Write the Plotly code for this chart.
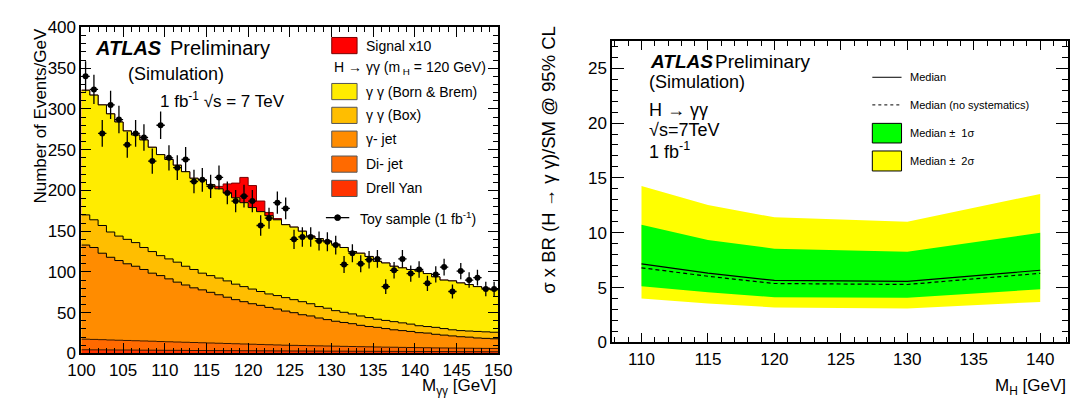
import numpy as np
import plotly.graph_objects as go

# ---------------- Left panel data (1 GeV bins, 100-150 GeV) ----------------
bin_edges = list(range(100, 151))
# stacked heights (top of each layer), Events/GeV
stack_born_brem = [323, 317, 305, 294, 284, 273, 268, 262, 253, 244,
                   238, 231, 223, 215, 213, 207, 202, 197, 191, 185,
                   179, 174, 169, 164, 158, 155, 150, 144, 141, 138,
                   134, 130, 125, 123, 119, 113, 111, 107, 105, 103,
                   101, 98, 94, 90, 89, 86.5, 84.5, 82, 80, 78]
stack_box = [170, 164, 157, 149, 144, 140, 136, 130, 125, 120,
             116, 112, 107, 103, 98.5, 95.5, 92.5, 89, 85, 82,
             79, 76, 73, 71, 68.5, 66, 63.5, 61, 57.5, 55.5,
             52.5, 50.5, 48.5, 46, 44, 42, 40.5, 39, 37.5, 36,
             34, 33, 32, 30.5, 29, 28, 27.5, 27, 26.5, 26]
stack_gjet = [133, 130, 123, 118, 114, 110, 107, 103, 98.5, 95.5,
              91.5, 87.5, 84, 80.5, 78, 75, 72, 69, 66, 63.5,
              61, 59, 56.5, 54.5, 52, 50, 47.5, 46, 43.5, 41.5,
              39.5, 38, 36.5, 34.5, 33, 32, 30.5, 29, 28, 27,
              25.5, 25, 23.5, 22.5, 21.5, 20.5, 20, 19, 18.5, 18]
stack_dijet = [17.5, 17.2, 16.9, 16.5, 16.2, 15.9, 15.6, 15.3, 15.0, 14.6,
               14.3, 14.0, 13.7, 13.4, 13.1, 12.8, 12.5, 12.2, 11.9, 11.6,
               11.3, 11.0, 10.7, 10.4, 10.1, 9.9, 9.7, 9.5, 9.3, 9.1,
               8.9, 8.7, 8.5, 8.3, 8.1, 7.9, 7.7, 7.6, 7.4, 7.3,
               7.1, 7.0, 6.8, 6.7, 6.6, 6.5, 6.4, 6.3, 6.2, 6.1]
stack_dy = [4.5, 4.4, 4.4, 4.3, 4.2, 4.2, 4.1, 4.0, 4.0, 3.9,
            3.8, 3.8, 3.7, 3.6, 3.6, 3.5, 3.5, 3.4, 3.4, 3.3,
            3.3, 3.2, 3.2, 3.1, 3.1, 3.0, 3.0, 2.9, 2.9, 2.8,
            2.8, 2.8, 2.7, 2.7, 2.6, 2.6, 2.6, 2.5, 2.5, 2.4,
            2.4, 2.4, 2.3, 2.3, 2.3, 2.2, 2.2, 2.2, 2.1, 2.1]
signal_x10 = [0, 0, 0, 0, 0, 0, 0, 0, 0, 0,
              0, 0, 0, 0, 0, 0, 3, 11, 18, 31,
              27, 13, 4, 1.5, 0, 0, 0, 0, 0, 0,
              0, 0, 0, 0, 0, 0, 0, 0, 0, 0,
              0, 0, 0, 0, 0, 0, 0, 0, 0, 0]
toy_sample = [340, 324, 270, 305, 287, 256, 270, 265, 236, 280,
              240, 228, 238, 211, 213, 205, 216, 197, 187, 193,
              187, 157, 166, 185, 178, 140, 143, 143, 138, 137,
              133, 109, 123, 110, 115, 116, 82, 102, 116, 98,
              103, 86, 97, 106, 76, 101, 90, 93, 79, 79]

# ---------------- Right panel data ----------------
mass_h = [110, 115, 120, 130, 140]
median = [7.16, 6.32, 5.65, 5.57, 6.58]
median_nosys = [6.80, 6.03, 5.37, 5.28, 6.30]
plus1 = [10.73, 9.34, 8.55, 8.27, 10.0]
minus1 = [5.13, 4.58, 4.12, 4.06, 4.84]
plus2 = [14.26, 12.52, 11.40, 11.0, 13.54]
minus2 = [4.0, 3.54, 3.19, 3.10, 3.69]

W, H = 1078, 398
FONT = "Liberation Sans, Arial, Helvetica, sans-serif"


def px(x):
    return x / W


def py(y):
    return 1 - y / H


C_SIG = "#FF0000"
C_BORN = "#FFEC00"
C_BOX = "#FFBE00"
C_GJET = "#FF8C00"
C_DIJET = "#FF6A00"
C_DY = "#FF3300"

fig = go.Figure()


def step(vals):
    return list(vals) + [vals[-1]]


tot_sig = [b + s for b, s in zip(stack_born_brem, signal_x10)]
layers = [
    (tot_sig, C_SIG, "#7a0000"),
    (stack_born_brem, C_BORN, "black"),
    (stack_box, C_BOX, "black"),
    (stack_gjet, C_GJET, "black"),
    (stack_dijet, C_DIJET, "#3a1a00"),
    (stack_dy, C_DY, "#3a1a00"),
]
for vals, col, lcol in layers:
    fig.add_trace(go.Scatter(
        x=bin_edges, y=step(vals), mode="lines", line=dict(shape="hv", color=lcol, width=1),
        fill="tozeroy", fillcolor=col, xaxis="x", yaxis="y", showlegend=False, hoverinfo="skip"))

centers = [e + 0.5 for e in bin_edges[:-1]]
fig.add_trace(go.Scatter(
    x=centers, y=toy_sample, mode="markers",
    marker=dict(color="black", size=6, symbol="circle"),
    error_y=dict(type="data", array=list(np.sqrt(toy_sample)), color="black", thickness=1.3, width=0),
    error_x=dict(type="constant", value=0.5, color="black", thickness=1.3, width=0),
    xaxis="x", yaxis="y", showlegend=False, hoverinfo="skip"))

# right panel bands
fig.add_trace(go.Scatter(
    x=mass_h + mass_h[::-1], y=plus2 + minus2[::-1], mode="lines", fill="toself",
    fillcolor="#FFFF00", line=dict(width=0), xaxis="x2", yaxis="y2", showlegend=False, hoverinfo="skip"))
fig.add_trace(go.Scatter(
    x=mass_h + mass_h[::-1], y=plus1 + minus1[::-1], mode="lines", fill="toself",
    fillcolor="#00FF00", line=dict(width=0), xaxis="x2", yaxis="y2", showlegend=False, hoverinfo="skip"))
fig.add_trace(go.Scatter(
    x=mass_h, y=median, mode="lines", line=dict(color="black", width=1.2),
    xaxis="x2", yaxis="y2", showlegend=False, hoverinfo="skip"))
fig.add_trace(go.Scatter(
    x=mass_h, y=median_nosys, mode="lines", line=dict(color="black", width=1.2, dash="4px,3px"),
    xaxis="x2", yaxis="y2", showlegend=False, hoverinfo="skip"))

axis_common = dict(showline=True, linecolor="black", linewidth=2, mirror="allticks",
                   ticks="inside", showgrid=False, zeroline=False, tickcolor="black",
                   tickfont=dict(family=FONT, size=17, color="black"))

fig.update_layout(
    width=W, height=H, autosize=False,
    margin=dict(l=0, r=0, t=0, b=0),
    paper_bgcolor="white", plot_bgcolor="white",
    font=dict(family=FONT, color="black"),
    xaxis=dict(domain=[px(61), px(489)], range=[100, 150], tick0=100, dtick=5, ticklen=10,
               minor=dict(dtick=1, ticklen=5, ticks="inside", tickcolor="black"),
               anchor="y", **axis_common),
    yaxis=dict(domain=[py(353.3), py(11)], range=[0, 400], tick0=0, dtick=50, ticklen=10,
               minor=dict(dtick=10, ticklen=5, ticks="inside", tickcolor="black"),
               anchor="x", **axis_common),
    xaxis2=dict(domain=[px(606), px(1074)], range=[107.8, 142.1], tick0=110, dtick=5, ticklen=9,
                minor=dict(dtick=1, ticklen=5, ticks="inside", tickcolor="black"),
                anchor="y2", **axis_common),
    yaxis2=dict(domain=[py(341.7), py(25)], range=[0, 27.5], tick0=0, dtick=5, ticklen=12,
                minor=dict(dtick=1, ticklen=6, ticks="inside", tickcolor="black"),
                anchor="x2", **axis_common),
)

ann = []


def text(x, y, s, size, xanchor="left", yanchor="middle", angle=0, **kw):
    ann.append(dict(x=px(x), y=py(y), xref="paper", yref="paper", text=s, showarrow=False,
                    xanchor=xanchor, yanchor=yanchor, textangle=angle,
                    font=dict(family=FONT, size=size, color="black"), **kw))


# axis titles
text(19, 10, "Number of Events/GeV", 17, xanchor="center", yanchor="top", angle=-90)
text(489, 389, "M<sub>γγ</sub> [GeV]", 17, xanchor="right")
text(541, 150, "σ x BR (H → γ γ)/SM @ 95% CL", 18.5, xanchor="center", yanchor="middle", angle=-90)
text(1074, 389, "M<sub>H</sub> [GeV]", 17, xanchor="right")

# left panel labels
text(73, 33, "<b><i>ATLAS</i></b>", 20)
text(150, 33, "Preliminary", 20)
text(107, 60, "(Simulation)", 18)
text(140, 87, "1 fb<sup>-1</sup> √s = 7 TeV", 17)

# left legend
shapes = []
leg_rows = [(30, C_SIG, "#7a0000", "Signal x10"),
            (78.3, C_BORN, "#555", "γ γ (Born &amp; Brem)"),
            (103.3, C_BOX, "#555", "γ γ (Box)"),
            (128.3, C_GJET, "#555", "γ- jet"),
            (154.5, C_DIJET, "#555", "Di- jet"),
            (180, C_DY, "#555", "Drell Yan")]
for yc, col, lcol, lab in leg_rows:
    shapes.append(dict(type="rect", xref="paper", yref="paper", x0=px(318), x1=px(344),
                       y0=py(yc + 8.5), y1=py(yc - 8.5), fillcolor=col, line=dict(color=lcol, width=1)))
    text(351, yc, lab, 14)
text(318, 53.3, "H → γγ (m<sub> H</sub> = 120 GeV)", 14)
shapes.append(dict(type="line", xref="paper", yref="paper", x0=px(312), x1=px(336),
                   y0=py(210.7), y1=py(210.7), line=dict(color="black", width=1.3)))
shapes.append(dict(type="circle", xref="paper", yref="paper", x0=px(321), x1=px(327),
                   y0=py(213.7), y1=py(207.7), fillcolor="black", line=dict(color="black", width=1)))
text(345, 210.7, "Toy sample (1 fb<sup>-1</sup>)", 14)

# right panel labels
text(643, 47, "<b><i>ATLAS</i></b>", 19)
text(709, 47, "Preliminary", 19)
text(642, 68, "(Simulation)", 18)
text(642, 98, "H → γγ", 18)
text(642, 119, "√s=7TeV", 18)
text(642, 140, "1 fb<sup>-1</sup>", 18)

# right legend
shapes.append(dict(type="line", xref="paper", yref="paper", x0=px(873), x1=px(903),
                   y0=py(63.3), y1=py(63.3), line=dict(color="black", width=1)))
shapes.append(dict(type="line", xref="paper", yref="paper", x0=px(873), x1=px(903),
                   y0=py(92.3), y1=py(92.3), line=dict(color="black", width=1, dash="3px,3px")))
shapes.append(dict(type="rect", xref="paper", yref="paper", x0=px(873), x1=px(903),
                   y0=py(132.3), y1=py(111.7), fillcolor="#00FF00", line=dict(color="black", width=1)))
shapes.append(dict(type="rect", xref="paper", yref="paper", x0=px(873), x1=px(903),
                   y0=py(161.7), y1=py(140.7), fillcolor="#FFFF00", line=dict(color="black", width=1)))
text(910, 63.3, "Median", 11)
text(910, 92.3, "Median (no systematics)", 11)
text(910, 122, "Median ±  1σ", 11)
text(910, 151, "Median ±  2σ", 11)

fig.update_layout(annotations=ann, shapes=shapes)

fig.write_html("out.html")
